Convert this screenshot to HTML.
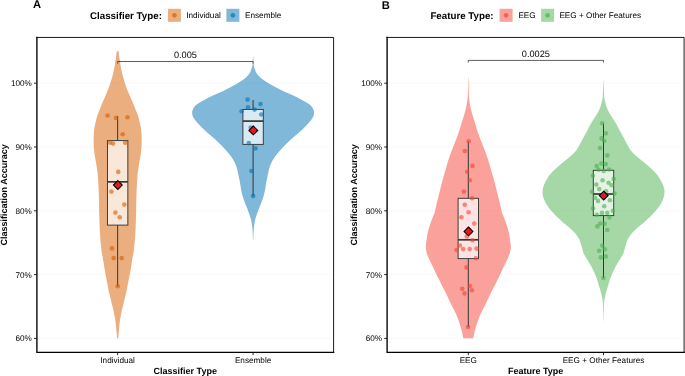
<!DOCTYPE html>
<html lang="en"><head><meta charset="utf-8"><title>Classification accuracy violin plots</title>
<style>html,body{margin:0;padding:0;background:#fff;overflow:hidden}svg{display:block}</style></head>
<body>
<svg width="685" height="376" viewBox="0 0 685 376" font-family="'Liberation Sans', Arial, Helvetica, sans-serif" text-rendering="geometricPrecision">
<rect width="685" height="376" fill="#fff"/>
<line x1="38.9" x2="331.6" y1="338.40" y2="338.40" stroke="#efefef" stroke-width="0.4"/>
<line x1="38.9" x2="331.6" y1="274.60" y2="274.60" stroke="#efefef" stroke-width="0.4"/>
<line x1="38.9" x2="331.6" y1="210.80" y2="210.80" stroke="#efefef" stroke-width="0.4"/>
<line x1="38.9" x2="331.6" y1="147.00" y2="147.00" stroke="#efefef" stroke-width="0.4"/>
<line x1="38.9" x2="331.6" y1="83.20" y2="83.20" stroke="#efefef" stroke-width="0.4"/>
<path d="M116.65 51.30 L116.57 52.30 L116.47 53.30 L116.37 54.30 L116.25 55.30 L116.12 56.30 L115.98 57.30 L115.83 58.30 L115.68 59.30 L115.52 60.30 L115.36 61.30 L115.23 62.30 L115.09 63.30 L114.96 64.30 L114.80 65.30 L114.62 66.30 L114.43 67.30 L114.23 68.30 L114.02 69.30 L113.81 70.30 L113.60 71.30 L113.38 72.30 L113.15 73.30 L112.92 74.30 L112.67 75.30 L112.41 76.30 L112.14 77.30 L111.85 78.30 L111.56 79.30 L111.26 80.30 L110.96 81.30 L110.64 82.30 L110.32 83.30 L109.99 84.30 L109.65 85.30 L109.31 86.30 L108.96 87.30 L108.60 88.30 L108.23 89.30 L107.84 90.30 L107.43 91.30 L107.01 92.30 L106.58 93.30 L106.15 94.30 L105.72 95.30 L105.28 96.30 L104.84 97.30 L104.40 98.30 L103.96 99.30 L103.52 100.30 L103.08 101.30 L102.63 102.30 L102.20 103.30 L101.78 104.30 L101.38 105.30 L100.99 106.30 L100.60 107.30 L100.21 108.30 L99.82 109.30 L99.43 110.30 L99.03 111.30 L98.59 112.30 L98.16 113.30 L97.76 114.30 L97.42 115.30 L97.11 116.30 L96.83 117.30 L96.56 118.30 L96.30 119.30 L96.05 120.30 L95.81 121.30 L95.58 122.30 L95.36 123.30 L95.15 124.30 L94.94 125.30 L94.73 126.30 L94.53 127.30 L94.36 128.30 L94.23 129.30 L94.12 130.30 L94.04 131.30 L93.96 132.30 L93.89 133.30 L93.82 134.30 L93.75 135.30 L93.69 136.30 L93.65 137.30 L93.65 138.30 L93.65 139.30 L93.65 140.30 L93.65 141.30 L93.66 142.30 L93.68 143.30 L93.71 144.30 L93.74 145.30 L93.79 146.30 L93.85 147.30 L93.91 148.30 L93.99 149.30 L94.07 150.30 L94.17 151.30 L94.29 152.30 L94.43 153.30 L94.58 154.30 L94.74 155.30 L94.90 156.30 L95.06 157.30 L95.25 158.30 L95.43 159.30 L95.62 160.30 L95.81 161.30 L95.98 162.30 L96.15 163.30 L96.30 164.30 L96.45 165.30 L96.60 166.30 L96.75 167.30 L96.90 168.30 L97.06 169.30 L97.22 170.30 L97.36 171.30 L97.48 172.30 L97.59 173.30 L97.68 174.30 L97.77 175.30 L97.85 176.30 L97.93 177.30 L98.00 178.30 L98.07 179.30 L98.13 180.30 L98.20 181.30 L98.25 182.30 L98.31 183.30 L98.37 184.30 L98.42 185.30 L98.47 186.30 L98.52 187.30 L98.57 188.30 L98.62 189.30 L98.66 190.30 L98.70 191.30 L98.73 192.30 L98.76 193.30 L98.80 194.30 L98.83 195.30 L98.86 196.30 L98.89 197.30 L98.93 198.30 L98.96 199.30 L98.99 200.30 L99.02 201.30 L99.04 202.30 L99.06 203.30 L99.07 204.30 L99.08 205.30 L99.09 206.30 L99.10 207.30 L99.11 208.30 L99.12 209.30 L99.13 210.30 L99.14 211.30 L99.16 212.30 L99.18 213.30 L99.22 214.30 L99.26 215.30 L99.30 216.30 L99.34 217.30 L99.37 218.30 L99.40 219.30 L99.44 220.30 L99.47 221.30 L99.50 222.30 L99.53 223.30 L99.56 224.30 L99.59 225.30 L99.62 226.30 L99.65 227.30 L99.68 228.30 L99.72 229.30 L99.76 230.30 L99.81 231.30 L99.88 232.30 L99.95 233.30 L100.02 234.30 L100.10 235.30 L100.17 236.30 L100.24 237.30 L100.31 238.30 L100.38 239.30 L100.45 240.30 L100.53 241.30 L100.61 242.30 L100.71 243.30 L100.82 244.30 L100.93 245.30 L101.05 246.30 L101.17 247.30 L101.28 248.30 L101.37 249.30 L101.47 250.30 L101.57 251.30 L101.69 252.30 L101.86 253.30 L102.06 254.30 L102.28 255.30 L102.50 256.30 L102.70 257.30 L102.87 258.30 L103.03 259.30 L103.19 260.30 L103.34 261.30 L103.49 262.30 L103.64 263.30 L103.80 264.30 L103.96 265.30 L104.12 266.30 L104.28 267.30 L104.44 268.30 L104.61 269.30 L104.79 270.30 L104.96 271.30 L105.15 272.30 L105.34 273.30 L105.53 274.30 L105.72 275.30 L105.91 276.30 L106.10 277.30 L106.29 278.30 L106.49 279.30 L106.68 280.30 L106.88 281.30 L107.07 282.30 L107.26 283.30 L107.45 284.30 L107.64 285.30 L107.83 286.30 L108.02 287.30 L108.21 288.30 L108.40 289.30 L108.60 290.30 L108.80 291.30 L109.02 292.30 L109.25 293.30 L109.51 294.30 L109.77 295.30 L110.02 296.30 L110.28 297.30 L110.52 298.30 L110.75 299.30 L110.99 300.30 L111.22 301.30 L111.45 302.30 L111.68 303.30 L111.92 304.30 L112.17 305.30 L112.42 306.30 L112.68 307.30 L112.93 308.30 L113.17 309.30 L113.39 310.30 L113.61 311.30 L113.82 312.30 L114.03 313.30 L114.23 314.30 L114.42 315.30 L114.60 316.30 L114.79 317.30 L114.97 318.30 L115.14 319.30 L115.31 320.30 L115.46 321.30 L115.60 322.30 L115.72 323.30 L115.82 324.30 L115.91 325.30 L116.00 326.30 L116.08 327.30 L116.18 328.30 L116.28 329.30 L116.38 330.30 L116.48 331.30 L116.58 332.30 L116.66 333.30 L116.75 334.30 L116.83 335.30 L116.91 336.30 L116.98 337.30 L117.05 338.30 L118.25 338.30 L118.32 337.30 L118.39 336.30 L118.47 335.30 L118.55 334.30 L118.64 333.30 L118.72 332.30 L118.82 331.30 L118.92 330.30 L119.02 329.30 L119.12 328.30 L119.22 327.30 L119.30 326.30 L119.39 325.30 L119.48 324.30 L119.58 323.30 L119.70 322.30 L119.84 321.30 L119.99 320.30 L120.16 319.30 L120.33 318.30 L120.51 317.30 L120.70 316.30 L120.88 315.30 L121.07 314.30 L121.27 313.30 L121.48 312.30 L121.69 311.30 L121.91 310.30 L122.13 309.30 L122.37 308.30 L122.62 307.30 L122.88 306.30 L123.13 305.30 L123.38 304.30 L123.62 303.30 L123.85 302.30 L124.08 301.30 L124.31 300.30 L124.55 299.30 L124.78 298.30 L125.02 297.30 L125.28 296.30 L125.53 295.30 L125.79 294.30 L126.05 293.30 L126.28 292.30 L126.50 291.30 L126.70 290.30 L126.90 289.30 L127.09 288.30 L127.28 287.30 L127.47 286.30 L127.66 285.30 L127.85 284.30 L128.04 283.30 L128.23 282.30 L128.42 281.30 L128.62 280.30 L128.81 279.30 L129.01 278.30 L129.20 277.30 L129.39 276.30 L129.58 275.30 L129.77 274.30 L129.96 273.30 L130.15 272.30 L130.34 271.30 L130.51 270.30 L130.69 269.30 L130.86 268.30 L131.02 267.30 L131.18 266.30 L131.34 265.30 L131.50 264.30 L131.66 263.30 L131.81 262.30 L131.96 261.30 L132.11 260.30 L132.27 259.30 L132.43 258.30 L132.60 257.30 L132.80 256.30 L133.02 255.30 L133.24 254.30 L133.44 253.30 L133.61 252.30 L133.73 251.30 L133.83 250.30 L133.93 249.30 L134.02 248.30 L134.13 247.30 L134.25 246.30 L134.37 245.30 L134.48 244.30 L134.59 243.30 L134.69 242.30 L134.77 241.30 L134.85 240.30 L134.92 239.30 L134.99 238.30 L135.06 237.30 L135.13 236.30 L135.20 235.30 L135.28 234.30 L135.35 233.30 L135.42 232.30 L135.49 231.30 L135.54 230.30 L135.58 229.30 L135.62 228.30 L135.65 227.30 L135.68 226.30 L135.71 225.30 L135.74 224.30 L135.77 223.30 L135.80 222.30 L135.83 221.30 L135.86 220.30 L135.90 219.30 L135.93 218.30 L135.96 217.30 L136.00 216.30 L136.04 215.30 L136.08 214.30 L136.12 213.30 L136.14 212.30 L136.16 211.30 L136.17 210.30 L136.18 209.30 L136.19 208.30 L136.20 207.30 L136.21 206.30 L136.22 205.30 L136.23 204.30 L136.24 203.30 L136.26 202.30 L136.28 201.30 L136.31 200.30 L136.34 199.30 L136.37 198.30 L136.41 197.30 L136.44 196.30 L136.47 195.30 L136.50 194.30 L136.54 193.30 L136.57 192.30 L136.60 191.30 L136.64 190.30 L136.68 189.30 L136.73 188.30 L136.78 187.30 L136.83 186.30 L136.88 185.30 L136.93 184.30 L136.99 183.30 L137.05 182.30 L137.10 181.30 L137.17 180.30 L137.23 179.30 L137.30 178.30 L137.37 177.30 L137.45 176.30 L137.53 175.30 L137.62 174.30 L137.71 173.30 L137.82 172.30 L137.94 171.30 L138.08 170.30 L138.24 169.30 L138.40 168.30 L138.55 167.30 L138.70 166.30 L138.85 165.30 L139.00 164.30 L139.15 163.30 L139.32 162.30 L139.49 161.30 L139.68 160.30 L139.87 159.30 L140.05 158.30 L140.24 157.30 L140.40 156.30 L140.56 155.30 L140.72 154.30 L140.87 153.30 L141.01 152.30 L141.13 151.30 L141.23 150.30 L141.31 149.30 L141.39 148.30 L141.45 147.30 L141.51 146.30 L141.56 145.30 L141.59 144.30 L141.62 143.30 L141.64 142.30 L141.65 141.30 L141.65 140.30 L141.65 139.30 L141.65 138.30 L141.65 137.30 L141.61 136.30 L141.55 135.30 L141.48 134.30 L141.41 133.30 L141.34 132.30 L141.26 131.30 L141.18 130.30 L141.07 129.30 L140.94 128.30 L140.77 127.30 L140.57 126.30 L140.36 125.30 L140.15 124.30 L139.94 123.30 L139.72 122.30 L139.49 121.30 L139.25 120.30 L139.00 119.30 L138.74 118.30 L138.47 117.30 L138.19 116.30 L137.88 115.30 L137.54 114.30 L137.14 113.30 L136.71 112.30 L136.27 111.30 L135.87 110.30 L135.48 109.30 L135.09 108.30 L134.70 107.30 L134.31 106.30 L133.92 105.30 L133.52 104.30 L133.10 103.30 L132.67 102.30 L132.22 101.30 L131.78 100.30 L131.34 99.30 L130.90 98.30 L130.46 97.30 L130.02 96.30 L129.58 95.30 L129.15 94.30 L128.72 93.30 L128.29 92.30 L127.87 91.30 L127.46 90.30 L127.07 89.30 L126.70 88.30 L126.34 87.30 L125.99 86.30 L125.65 85.30 L125.31 84.30 L124.98 83.30 L124.66 82.30 L124.34 81.30 L124.04 80.30 L123.74 79.30 L123.45 78.30 L123.16 77.30 L122.89 76.30 L122.63 75.30 L122.38 74.30 L122.15 73.30 L121.92 72.30 L121.70 71.30 L121.49 70.30 L121.28 69.30 L121.07 68.30 L120.87 67.30 L120.68 66.30 L120.50 65.30 L120.34 64.30 L120.21 63.30 L120.07 62.30 L119.94 61.30 L119.78 60.30 L119.62 59.30 L119.47 58.30 L119.32 57.30 L119.18 56.30 L119.05 55.30 L118.93 54.30 L118.83 53.30 L118.73 52.30 L118.65 51.30Z" fill="#D55E00" fill-opacity="0.5"/>
<path d="M252.90 56.50 L252.88 57.50 L252.85 58.50 L252.81 59.50 L252.77 60.50 L252.73 61.50 L252.68 62.50 L252.63 63.50 L252.56 64.50 L252.45 65.50 L252.23 66.50 L251.93 67.50 L251.60 68.50 L251.27 69.50 L250.92 70.50 L250.52 71.50 L250.05 72.50 L249.47 73.50 L248.75 74.50 L247.92 75.50 L247.01 76.50 L245.95 77.50 L244.74 78.50 L243.42 79.50 L242.04 80.50 L240.54 81.50 L238.95 82.50 L237.28 83.50 L235.56 84.50 L233.75 85.50 L231.88 86.50 L229.98 87.50 L228.07 88.50 L226.14 89.50 L224.16 90.50 L222.09 91.50 L219.86 92.50 L217.51 93.50 L215.15 94.50 L212.88 95.50 L210.79 96.50 L208.87 97.50 L207.02 98.50 L205.16 99.50 L203.28 100.50 L201.46 101.50 L199.77 102.50 L198.15 103.50 L196.69 104.50 L195.57 105.50 L194.61 106.50 L193.81 107.50 L193.26 108.50 L192.83 109.50 L192.46 110.50 L192.20 111.50 L192.10 112.50 L192.16 113.50 L192.30 114.50 L192.50 115.50 L192.86 116.50 L193.42 117.50 L194.07 118.50 L194.74 119.50 L195.50 120.50 L196.32 121.50 L197.20 122.50 L198.11 123.50 L199.03 124.50 L199.95 125.50 L200.90 126.50 L201.88 127.50 L202.88 128.50 L203.92 129.50 L204.97 130.50 L206.06 131.50 L207.19 132.50 L208.37 133.50 L209.56 134.50 L210.75 135.50 L211.92 136.50 L213.05 137.50 L214.16 138.50 L215.26 139.50 L216.35 140.50 L217.42 141.50 L218.47 142.50 L219.50 143.50 L220.51 144.50 L221.50 145.50 L222.47 146.50 L223.42 147.50 L224.35 148.50 L225.26 149.50 L226.15 150.50 L227.04 151.50 L227.91 152.50 L228.76 153.50 L229.57 154.50 L230.35 155.50 L231.07 156.50 L231.76 157.50 L232.42 158.50 L233.06 159.50 L233.65 160.50 L234.21 161.50 L234.71 162.50 L235.16 163.50 L235.58 164.50 L235.98 165.50 L236.35 166.50 L236.68 167.50 L236.99 168.50 L237.25 169.50 L237.48 170.50 L237.69 171.50 L237.91 172.50 L238.13 173.50 L238.35 174.50 L238.56 175.50 L238.77 176.50 L238.98 177.50 L239.18 178.50 L239.38 179.50 L239.58 180.50 L239.78 181.50 L239.97 182.50 L240.15 183.50 L240.32 184.50 L240.47 185.50 L240.62 186.50 L240.77 187.50 L240.92 188.50 L241.09 189.50 L241.28 190.50 L241.48 191.50 L241.70 192.50 L241.94 193.50 L242.19 194.50 L242.45 195.50 L242.73 196.50 L243.03 197.50 L243.36 198.50 L243.71 199.50 L244.08 200.50 L244.45 201.50 L244.83 202.50 L245.21 203.50 L245.61 204.50 L246.03 205.50 L246.44 206.50 L246.85 207.50 L247.25 208.50 L247.62 209.50 L247.98 210.50 L248.32 211.50 L248.67 212.50 L249.02 213.50 L249.39 214.50 L249.76 215.50 L250.11 216.50 L250.44 217.50 L250.72 218.50 L250.97 219.50 L251.19 220.50 L251.40 221.50 L251.60 222.50 L251.77 223.50 L251.92 224.50 L252.05 225.50 L252.17 226.50 L252.28 227.50 L252.38 228.50 L252.47 229.50 L252.54 230.50 L252.61 231.50 L252.66 232.50 L252.71 233.50 L252.76 234.50 L252.80 235.50 L252.84 236.50 L252.87 237.50 L252.89 238.50 L252.90 239.50 L253.30 239.50 L253.31 238.50 L253.33 237.50 L253.36 236.50 L253.40 235.50 L253.44 234.50 L253.49 233.50 L253.54 232.50 L253.59 231.50 L253.66 230.50 L253.73 229.50 L253.82 228.50 L253.92 227.50 L254.03 226.50 L254.15 225.50 L254.28 224.50 L254.43 223.50 L254.60 222.50 L254.80 221.50 L255.01 220.50 L255.23 219.50 L255.48 218.50 L255.76 217.50 L256.09 216.50 L256.44 215.50 L256.81 214.50 L257.18 213.50 L257.53 212.50 L257.88 211.50 L258.22 210.50 L258.58 209.50 L258.95 208.50 L259.35 207.50 L259.76 206.50 L260.17 205.50 L260.59 204.50 L260.99 203.50 L261.37 202.50 L261.75 201.50 L262.12 200.50 L262.49 199.50 L262.84 198.50 L263.17 197.50 L263.47 196.50 L263.75 195.50 L264.01 194.50 L264.26 193.50 L264.50 192.50 L264.72 191.50 L264.92 190.50 L265.11 189.50 L265.28 188.50 L265.43 187.50 L265.58 186.50 L265.73 185.50 L265.88 184.50 L266.05 183.50 L266.23 182.50 L266.42 181.50 L266.62 180.50 L266.82 179.50 L267.02 178.50 L267.22 177.50 L267.43 176.50 L267.64 175.50 L267.85 174.50 L268.07 173.50 L268.29 172.50 L268.51 171.50 L268.72 170.50 L268.95 169.50 L269.21 168.50 L269.52 167.50 L269.85 166.50 L270.22 165.50 L270.62 164.50 L271.04 163.50 L271.49 162.50 L271.99 161.50 L272.55 160.50 L273.14 159.50 L273.78 158.50 L274.44 157.50 L275.13 156.50 L275.85 155.50 L276.63 154.50 L277.44 153.50 L278.29 152.50 L279.16 151.50 L280.05 150.50 L280.94 149.50 L281.85 148.50 L282.78 147.50 L283.73 146.50 L284.70 145.50 L285.69 144.50 L286.70 143.50 L287.73 142.50 L288.78 141.50 L289.85 140.50 L290.94 139.50 L292.04 138.50 L293.15 137.50 L294.28 136.50 L295.45 135.50 L296.64 134.50 L297.83 133.50 L299.01 132.50 L300.14 131.50 L301.23 130.50 L302.28 129.50 L303.32 128.50 L304.32 127.50 L305.30 126.50 L306.25 125.50 L307.17 124.50 L308.09 123.50 L309.00 122.50 L309.88 121.50 L310.70 120.50 L311.46 119.50 L312.13 118.50 L312.78 117.50 L313.34 116.50 L313.70 115.50 L313.90 114.50 L314.04 113.50 L314.10 112.50 L314.00 111.50 L313.74 110.50 L313.37 109.50 L312.94 108.50 L312.39 107.50 L311.59 106.50 L310.63 105.50 L309.51 104.50 L308.05 103.50 L306.43 102.50 L304.74 101.50 L302.92 100.50 L301.04 99.50 L299.18 98.50 L297.33 97.50 L295.41 96.50 L293.32 95.50 L291.05 94.50 L288.69 93.50 L286.34 92.50 L284.11 91.50 L282.04 90.50 L280.06 89.50 L278.13 88.50 L276.22 87.50 L274.32 86.50 L272.45 85.50 L270.64 84.50 L268.92 83.50 L267.25 82.50 L265.66 81.50 L264.16 80.50 L262.78 79.50 L261.46 78.50 L260.25 77.50 L259.19 76.50 L258.28 75.50 L257.45 74.50 L256.73 73.50 L256.15 72.50 L255.68 71.50 L255.28 70.50 L254.93 69.50 L254.60 68.50 L254.27 67.50 L253.97 66.50 L253.75 65.50 L253.64 64.50 L253.57 63.50 L253.52 62.50 L253.47 61.50 L253.43 60.50 L253.39 59.50 L253.35 58.50 L253.32 57.50 L253.30 56.50Z" fill="#0072B2" fill-opacity="0.5"/>
<g stroke="#363636" stroke-width="1.0">
<line x1="117.65" x2="117.65" y1="116.0" y2="140.6"/><line x1="117.65" x2="117.65" y1="225.1" y2="286.3"/>
<rect x="107.45" y="140.6" width="20.40" height="84.50" fill="#fff" fill-opacity="0.7" stroke-width="0.95"/>
<line x1="107.45" x2="127.85" y1="181.85" y2="181.85" stroke-width="1.7"/>
</g>
<g stroke="#363636" stroke-width="1.0">
<line x1="253.1" x2="253.1" y1="100.0" y2="109.4"/><line x1="253.1" x2="253.1" y1="144.4" y2="196.1"/>
<rect x="242.90" y="109.4" width="20.40" height="35.00" fill="#fff" fill-opacity="0.7" stroke-width="0.95"/>
<line x1="242.90" x2="263.30" y1="121.1" y2="121.1" stroke-width="1.7"/>
</g>
<g fill="#D55E00" fill-opacity="0.6">
<circle cx="107.6" cy="115.5" r="2.32"/>
<circle cx="116" cy="117.9" r="2.32"/>
<circle cx="127.5" cy="117.3" r="2.32"/>
<circle cx="122.7" cy="134.2" r="2.32"/>
<circle cx="109.9" cy="142.6" r="2.32"/>
<circle cx="113" cy="143.6" r="2.32"/>
<circle cx="125.2" cy="142.7" r="2.32"/>
<circle cx="118.3" cy="171.9" r="2.32"/>
<circle cx="111.4" cy="191.6" r="2.32"/>
<circle cx="124.3" cy="204.6" r="2.32"/>
<circle cx="115.4" cy="212.6" r="2.32"/>
<circle cx="119.7" cy="217.3" r="2.32"/>
<circle cx="112" cy="248.4" r="2.32"/>
<circle cx="113.7" cy="258.1" r="2.32"/>
<circle cx="121.7" cy="258.1" r="2.32"/>
<circle cx="117.7" cy="286.3" r="2.32"/>
</g>
<g fill="#0072B2" fill-opacity="0.6">
<circle cx="247.6" cy="99.6" r="2.32"/>
<circle cx="260.5" cy="104.1" r="2.32"/>
<circle cx="248" cy="107.4" r="2.32"/>
<circle cx="254.6" cy="109.6" r="2.32"/>
<circle cx="241.6" cy="111.3" r="2.32"/>
<circle cx="261.3" cy="114.5" r="2.32"/>
<circle cx="250.8" cy="127.5" r="2.32"/>
<circle cx="248.8" cy="143.1" r="2.32"/>
<circle cx="255.5" cy="148.4" r="2.32"/>
<circle cx="251.4" cy="171.0" r="2.32"/>
<circle cx="253.1" cy="196.1" r="2.32"/>
</g>
<path d="M117.85 180.65 L122.25 185.05 L117.85 189.45 L113.45 185.05Z" fill="#e3191e" stroke="#000" stroke-width="1.1" stroke-linejoin="miter"/>
<path d="M253.3 126.0 L257.7 130.4 L253.3 134.8 L248.9 130.4Z" fill="#e3191e" stroke="#000" stroke-width="1.1" stroke-linejoin="miter"/>
<path d="M117.65 63.6 V61.5 H253.1 V63.6" fill="none" stroke="#2a2a2a" stroke-width="0.75"/>
<text x="185.38" y="58.00" font-size="9.2" text-anchor="middle" fill="#000">0.005</text>
<path d="M36.9 37.45 H333.6 V352.3" fill="none" stroke="#000" stroke-width="0.9" stroke-linecap="square"/>
<path d="M36.9 37.45 V352.3 H333.6" fill="none" stroke="#000" stroke-width="1.35" stroke-linecap="square"/>
<line x1="34.0" x2="36.9" y1="338.40" y2="338.40" stroke="#111" stroke-width="0.9"/>
<text x="31.90" y="341.35" font-size="8.2" text-anchor="end" fill="#000">60%</text>
<line x1="34.0" x2="36.9" y1="274.60" y2="274.60" stroke="#111" stroke-width="0.9"/>
<text x="31.90" y="277.55" font-size="8.2" text-anchor="end" fill="#000">70%</text>
<line x1="34.0" x2="36.9" y1="210.80" y2="210.80" stroke="#111" stroke-width="0.9"/>
<text x="31.90" y="213.75" font-size="8.2" text-anchor="end" fill="#000">80%</text>
<line x1="34.0" x2="36.9" y1="147.00" y2="147.00" stroke="#111" stroke-width="0.9"/>
<text x="31.90" y="149.95" font-size="8.2" text-anchor="end" fill="#000">90%</text>
<line x1="34.0" x2="36.9" y1="83.20" y2="83.20" stroke="#111" stroke-width="0.9"/>
<text x="31.90" y="86.15" font-size="8.2" text-anchor="end" fill="#000">100%</text>
<line x1="117.65" x2="117.65" y1="352.3" y2="355.2" stroke="#111" stroke-width="0.9"/>
<text x="117.65" y="363.1" font-size="8.2" text-anchor="middle" fill="#000">Individual</text>
<line x1="253.1" x2="253.1" y1="352.3" y2="355.2" stroke="#111" stroke-width="0.9"/>
<text x="253.1" y="363.1" font-size="8.2" text-anchor="middle" fill="#000">Ensemble</text>
<text x="185.25" y="373.5" font-size="9" font-weight="bold" text-anchor="middle" fill="#000">Classifier Type</text>
<text transform="translate(7.0 194.88) rotate(-90)" font-size="9" font-weight="bold" text-anchor="middle" fill="#000">Classification Accuracy</text>
<text x="33.1" y="8.1" font-size="11.2" font-weight="bold" fill="#000">A</text>
<text x="90.0" y="18.6" font-size="9.75" font-weight="bold" fill="#000">Classifier Type:</text>
<rect x="167.9" y="8.8" width="13" height="13" fill="#D55E00" fill-opacity="0.5"/>
<circle cx="174.4" cy="15.3" r="2.35" fill="#D55E00" fill-opacity="0.68"/>
<text x="186.2" y="18.2" font-size="8.2" fill="#000">Individual</text>
<rect x="226.4" y="8.8" width="13" height="13" fill="#0072B2" fill-opacity="0.5"/>
<circle cx="232.9" cy="15.3" r="2.35" fill="#0072B2" fill-opacity="0.68"/>
<text x="245.0" y="18.2" font-size="8.2" fill="#000">Ensemble</text>
<line x1="389.1" x2="682.1" y1="338.40" y2="338.40" stroke="#efefef" stroke-width="0.4"/>
<line x1="389.1" x2="682.1" y1="274.60" y2="274.60" stroke="#efefef" stroke-width="0.4"/>
<line x1="389.1" x2="682.1" y1="210.80" y2="210.80" stroke="#efefef" stroke-width="0.4"/>
<line x1="389.1" x2="682.1" y1="147.00" y2="147.00" stroke="#efefef" stroke-width="0.4"/>
<line x1="389.1" x2="682.1" y1="83.20" y2="83.20" stroke="#efefef" stroke-width="0.4"/>
<path d="M468.15 77.60 L468.14 78.60 L468.13 79.60 L468.12 80.60 L468.10 81.60 L468.09 82.60 L468.07 83.60 L468.06 84.60 L468.04 85.60 L468.02 86.60 L468.00 87.60 L467.98 88.60 L467.95 89.60 L467.92 90.60 L467.89 91.60 L467.86 92.60 L467.82 93.60 L467.77 94.60 L467.72 95.60 L467.67 96.60 L467.60 97.60 L467.52 98.60 L467.41 99.60 L467.28 100.60 L467.14 101.60 L466.99 102.60 L466.83 103.60 L466.67 104.60 L466.48 105.60 L466.29 106.60 L466.07 107.60 L465.85 108.60 L465.62 109.60 L465.38 110.60 L465.12 111.60 L464.84 112.60 L464.54 113.60 L464.25 114.60 L463.94 115.60 L463.64 116.60 L463.33 117.60 L463.01 118.60 L462.69 119.60 L462.36 120.60 L462.04 121.60 L461.73 122.60 L461.43 123.60 L461.14 124.60 L460.86 125.60 L460.58 126.60 L460.29 127.60 L459.99 128.60 L459.68 129.60 L459.36 130.60 L459.03 131.60 L458.70 132.60 L458.35 133.60 L458.00 134.60 L457.64 135.60 L457.27 136.60 L456.90 137.60 L456.52 138.60 L456.14 139.60 L455.74 140.60 L455.35 141.60 L454.95 142.60 L454.56 143.60 L454.16 144.60 L453.77 145.60 L453.37 146.60 L452.98 147.60 L452.58 148.60 L452.19 149.60 L451.81 150.60 L451.43 151.60 L451.05 152.60 L450.67 153.60 L450.30 154.60 L449.94 155.60 L449.59 156.60 L449.25 157.60 L448.91 158.60 L448.58 159.60 L448.25 160.60 L447.94 161.60 L447.63 162.60 L447.33 163.60 L447.04 164.60 L446.76 165.60 L446.49 166.60 L446.21 167.60 L445.93 168.60 L445.66 169.60 L445.39 170.60 L445.11 171.60 L444.82 172.60 L444.52 173.60 L444.21 174.60 L443.90 175.60 L443.59 176.60 L443.30 177.60 L443.02 178.60 L442.75 179.60 L442.48 180.60 L442.22 181.60 L441.96 182.60 L441.70 183.60 L441.45 184.60 L441.20 185.60 L440.96 186.60 L440.71 187.60 L440.47 188.60 L440.22 189.60 L439.97 190.60 L439.72 191.60 L439.47 192.60 L439.21 193.60 L438.96 194.60 L438.70 195.60 L438.45 196.60 L438.19 197.60 L437.93 198.60 L437.67 199.60 L437.42 200.60 L437.17 201.60 L436.92 202.60 L436.69 203.60 L436.45 204.60 L436.23 205.60 L436.00 206.60 L435.79 207.60 L435.58 208.60 L435.40 209.60 L435.22 210.60 L435.00 211.60 L434.72 212.60 L434.33 213.60 L433.89 214.60 L433.44 215.60 L433.02 216.60 L432.62 217.60 L432.23 218.60 L431.85 219.60 L431.47 220.60 L431.11 221.60 L430.76 222.60 L430.42 223.60 L430.09 224.60 L429.77 225.60 L429.46 226.60 L429.15 227.60 L428.85 228.60 L428.57 229.60 L428.30 230.60 L428.03 231.60 L427.78 232.60 L427.56 233.60 L427.37 234.60 L427.20 235.60 L427.05 236.60 L426.90 237.60 L426.76 238.60 L426.61 239.60 L426.48 240.60 L426.34 241.60 L426.21 242.60 L426.07 243.60 L425.93 244.60 L425.85 245.60 L425.81 246.60 L425.80 247.60 L425.88 248.60 L426.01 249.60 L426.17 250.60 L426.36 251.60 L426.63 252.60 L426.94 253.60 L427.29 254.60 L427.64 255.60 L428.03 256.60 L428.45 257.60 L428.90 258.60 L429.34 259.60 L429.80 260.60 L430.28 261.60 L430.76 262.60 L431.25 263.60 L431.75 264.60 L432.25 265.60 L432.76 266.60 L433.26 267.60 L433.74 268.60 L434.20 269.60 L434.66 270.60 L435.10 271.60 L435.55 272.60 L436.01 273.60 L436.46 274.60 L436.92 275.60 L437.40 276.60 L437.91 277.60 L438.44 278.60 L438.98 279.60 L439.50 280.60 L439.99 281.60 L440.46 282.60 L440.93 283.60 L441.40 284.60 L441.90 285.60 L442.44 286.60 L442.98 287.60 L443.52 288.60 L444.05 289.60 L444.56 290.60 L445.07 291.60 L445.56 292.60 L446.05 293.60 L446.54 294.60 L447.03 295.60 L447.51 296.60 L447.98 297.60 L448.44 298.60 L448.87 299.60 L449.30 300.60 L449.74 301.60 L450.19 302.60 L450.68 303.60 L451.18 304.60 L451.69 305.60 L452.20 306.60 L452.73 307.60 L453.26 308.60 L453.79 309.60 L454.30 310.60 L454.80 311.60 L455.29 312.60 L455.77 313.60 L456.24 314.60 L456.67 315.60 L457.09 316.60 L457.48 317.60 L457.87 318.60 L458.24 319.60 L458.60 320.60 L458.94 321.60 L459.28 322.60 L459.60 323.60 L459.92 324.60 L460.22 325.60 L460.51 326.60 L460.80 327.60 L461.09 328.60 L461.38 329.60 L461.66 330.60 L461.94 331.60 L462.18 332.60 L462.38 333.60 L462.56 334.60 L462.76 335.60 L462.96 336.60 L463.16 337.60 L463.30 338.30 L473.30 338.30 L473.44 337.60 L473.64 336.60 L473.84 335.60 L474.04 334.60 L474.22 333.60 L474.42 332.60 L474.66 331.60 L474.94 330.60 L475.22 329.60 L475.51 328.60 L475.80 327.60 L476.09 326.60 L476.38 325.60 L476.68 324.60 L477.00 323.60 L477.32 322.60 L477.66 321.60 L478.00 320.60 L478.36 319.60 L478.73 318.60 L479.12 317.60 L479.51 316.60 L479.93 315.60 L480.36 314.60 L480.83 313.60 L481.31 312.60 L481.80 311.60 L482.30 310.60 L482.81 309.60 L483.34 308.60 L483.87 307.60 L484.40 306.60 L484.91 305.60 L485.42 304.60 L485.92 303.60 L486.41 302.60 L486.86 301.60 L487.30 300.60 L487.73 299.60 L488.16 298.60 L488.62 297.60 L489.09 296.60 L489.57 295.60 L490.06 294.60 L490.55 293.60 L491.04 292.60 L491.53 291.60 L492.04 290.60 L492.55 289.60 L493.08 288.60 L493.62 287.60 L494.16 286.60 L494.70 285.60 L495.20 284.60 L495.67 283.60 L496.14 282.60 L496.61 281.60 L497.10 280.60 L497.62 279.60 L498.16 278.60 L498.69 277.60 L499.20 276.60 L499.68 275.60 L500.14 274.60 L500.59 273.60 L501.05 272.60 L501.50 271.60 L501.94 270.60 L502.40 269.60 L502.86 268.60 L503.34 267.60 L503.84 266.60 L504.35 265.60 L504.85 264.60 L505.35 263.60 L505.84 262.60 L506.32 261.60 L506.80 260.60 L507.26 259.60 L507.70 258.60 L508.15 257.60 L508.57 256.60 L508.96 255.60 L509.31 254.60 L509.66 253.60 L509.97 252.60 L510.24 251.60 L510.43 250.60 L510.59 249.60 L510.72 248.60 L510.80 247.60 L510.79 246.60 L510.75 245.60 L510.67 244.60 L510.53 243.60 L510.39 242.60 L510.26 241.60 L510.12 240.60 L509.99 239.60 L509.84 238.60 L509.70 237.60 L509.55 236.60 L509.40 235.60 L509.23 234.60 L509.04 233.60 L508.82 232.60 L508.57 231.60 L508.30 230.60 L508.03 229.60 L507.75 228.60 L507.45 227.60 L507.14 226.60 L506.83 225.60 L506.51 224.60 L506.18 223.60 L505.84 222.60 L505.49 221.60 L505.13 220.60 L504.75 219.60 L504.37 218.60 L503.98 217.60 L503.58 216.60 L503.16 215.60 L502.71 214.60 L502.27 213.60 L501.88 212.60 L501.60 211.60 L501.38 210.60 L501.20 209.60 L501.02 208.60 L500.81 207.60 L500.60 206.60 L500.37 205.60 L500.15 204.60 L499.91 203.60 L499.68 202.60 L499.43 201.60 L499.18 200.60 L498.93 199.60 L498.67 198.60 L498.41 197.60 L498.15 196.60 L497.90 195.60 L497.64 194.60 L497.39 193.60 L497.13 192.60 L496.88 191.60 L496.63 190.60 L496.38 189.60 L496.13 188.60 L495.89 187.60 L495.64 186.60 L495.40 185.60 L495.15 184.60 L494.90 183.60 L494.64 182.60 L494.38 181.60 L494.12 180.60 L493.85 179.60 L493.58 178.60 L493.30 177.60 L493.01 176.60 L492.70 175.60 L492.39 174.60 L492.08 173.60 L491.78 172.60 L491.49 171.60 L491.21 170.60 L490.94 169.60 L490.67 168.60 L490.39 167.60 L490.11 166.60 L489.84 165.60 L489.56 164.60 L489.27 163.60 L488.97 162.60 L488.66 161.60 L488.35 160.60 L488.02 159.60 L487.69 158.60 L487.35 157.60 L487.01 156.60 L486.66 155.60 L486.30 154.60 L485.93 153.60 L485.55 152.60 L485.17 151.60 L484.79 150.60 L484.41 149.60 L484.02 148.60 L483.62 147.60 L483.23 146.60 L482.83 145.60 L482.44 144.60 L482.04 143.60 L481.65 142.60 L481.25 141.60 L480.86 140.60 L480.46 139.60 L480.08 138.60 L479.70 137.60 L479.33 136.60 L478.96 135.60 L478.60 134.60 L478.25 133.60 L477.90 132.60 L477.57 131.60 L477.24 130.60 L476.92 129.60 L476.61 128.60 L476.31 127.60 L476.02 126.60 L475.74 125.60 L475.46 124.60 L475.17 123.60 L474.87 122.60 L474.56 121.60 L474.24 120.60 L473.91 119.60 L473.59 118.60 L473.27 117.60 L472.96 116.60 L472.66 115.60 L472.35 114.60 L472.06 113.60 L471.76 112.60 L471.48 111.60 L471.22 110.60 L470.98 109.60 L470.75 108.60 L470.53 107.60 L470.31 106.60 L470.12 105.60 L469.93 104.60 L469.77 103.60 L469.61 102.60 L469.46 101.60 L469.32 100.60 L469.19 99.60 L469.08 98.60 L469.00 97.60 L468.93 96.60 L468.88 95.60 L468.83 94.60 L468.78 93.60 L468.74 92.60 L468.71 91.60 L468.68 90.60 L468.65 89.60 L468.62 88.60 L468.60 87.60 L468.58 86.60 L468.56 85.60 L468.54 84.60 L468.53 83.60 L468.51 82.60 L468.50 81.60 L468.48 80.60 L468.47 79.60 L468.46 78.60 L468.45 77.60Z" fill="#F44336" fill-opacity="0.5"/>
<path d="M603.35 80.80 L603.33 81.80 L603.30 82.80 L603.27 83.80 L603.24 84.80 L603.21 85.80 L603.17 86.80 L603.13 87.80 L603.10 88.80 L603.06 89.80 L603.02 90.80 L602.98 91.80 L602.94 92.80 L602.90 93.80 L602.85 94.80 L602.79 95.80 L602.72 96.80 L602.63 97.80 L602.47 98.80 L602.26 99.80 L602.03 100.80 L601.79 101.80 L601.56 102.80 L601.32 103.80 L601.06 104.80 L600.78 105.80 L600.47 106.80 L600.12 107.80 L599.73 108.80 L599.29 109.80 L598.81 110.80 L598.31 111.80 L597.78 112.80 L597.20 113.80 L596.57 114.80 L595.91 115.80 L595.25 116.80 L594.61 117.80 L593.97 118.80 L593.32 119.80 L592.67 120.80 L592.04 121.80 L591.44 122.80 L590.86 123.80 L590.30 124.80 L589.76 125.80 L589.22 126.80 L588.70 127.80 L588.20 128.80 L587.70 129.80 L587.17 130.80 L586.62 131.80 L586.06 132.80 L585.50 133.80 L584.95 134.80 L584.40 135.80 L583.85 136.80 L583.31 137.80 L582.79 138.80 L582.28 139.80 L581.77 140.80 L581.26 141.80 L580.74 142.80 L580.21 143.80 L579.67 144.80 L579.12 145.80 L578.56 146.80 L577.98 147.80 L577.39 148.80 L576.74 149.80 L575.99 150.80 L575.14 151.80 L574.22 152.80 L573.20 153.80 L572.13 154.80 L571.03 155.80 L569.88 156.80 L568.70 157.80 L567.46 158.80 L566.20 159.80 L564.97 160.80 L563.75 161.80 L562.55 162.80 L561.35 163.80 L560.18 164.80 L559.02 165.80 L557.86 166.80 L556.71 167.80 L555.59 168.80 L554.51 169.80 L553.50 170.80 L552.52 171.80 L551.57 172.80 L550.67 173.80 L549.83 174.80 L549.08 175.80 L548.39 176.80 L547.75 177.80 L547.15 178.80 L546.59 179.80 L546.05 180.80 L545.52 181.80 L545.00 182.80 L544.51 183.80 L544.08 184.80 L543.70 185.80 L543.37 186.80 L543.07 187.80 L542.85 188.80 L542.70 189.80 L542.57 190.80 L542.50 191.80 L542.52 192.80 L542.61 193.80 L542.74 194.80 L542.90 195.80 L543.15 196.80 L543.44 197.80 L543.77 198.80 L544.14 199.80 L544.57 200.80 L545.04 201.80 L545.56 202.80 L546.14 203.80 L546.75 204.80 L547.40 205.80 L548.08 206.80 L548.82 207.80 L549.61 208.80 L550.44 209.80 L551.30 210.80 L552.16 211.80 L553.03 212.80 L553.91 213.80 L554.83 214.80 L555.79 215.80 L556.80 216.80 L557.94 217.80 L559.15 218.80 L560.29 219.80 L561.25 220.80 L562.20 221.80 L563.36 222.80 L564.65 223.80 L565.94 224.80 L567.14 225.80 L568.32 226.80 L569.49 227.80 L570.62 228.80 L571.69 229.80 L572.70 230.80 L573.69 231.80 L574.63 232.80 L575.52 233.80 L576.33 234.80 L577.05 235.80 L577.73 236.80 L578.36 237.80 L578.94 238.80 L579.44 239.80 L579.86 240.80 L580.21 241.80 L580.53 242.80 L580.81 243.80 L581.10 244.80 L581.39 245.80 L581.68 246.80 L581.96 247.80 L582.24 248.80 L582.53 249.80 L582.83 250.80 L583.13 251.80 L583.45 252.80 L583.82 253.80 L584.31 254.80 L584.90 255.80 L585.49 256.80 L586.10 257.80 L586.72 258.80 L587.33 259.80 L587.94 260.80 L588.56 261.80 L589.17 262.80 L589.77 263.80 L590.35 264.80 L590.92 265.80 L591.48 266.80 L592.03 267.80 L592.55 268.80 L593.04 269.80 L593.52 270.80 L593.98 271.80 L594.42 272.80 L594.85 273.80 L595.27 274.80 L595.69 275.80 L596.10 276.80 L596.49 277.80 L596.86 278.80 L597.20 279.80 L597.50 280.80 L597.79 281.80 L598.06 282.80 L598.34 283.80 L598.63 284.80 L598.94 285.80 L599.26 286.80 L599.58 287.80 L599.90 288.80 L600.20 289.80 L600.49 290.80 L600.77 291.80 L601.03 292.80 L601.28 293.80 L601.53 294.80 L601.77 295.80 L602.00 296.80 L602.21 297.80 L602.38 298.80 L602.54 299.80 L602.68 300.80 L602.78 301.80 L602.86 302.80 L602.92 303.80 L602.97 304.80 L603.01 305.80 L603.04 306.80 L603.08 307.80 L603.11 308.80 L603.14 309.80 L603.17 310.80 L603.20 311.80 L603.23 312.80 L603.25 313.80 L603.28 314.80 L603.30 315.80 L603.31 316.80 L603.33 317.80 L603.34 318.80 L603.35 319.80 L603.35 320.70 L603.65 320.70 L603.65 319.80 L603.66 318.80 L603.67 317.80 L603.69 316.80 L603.70 315.80 L603.72 314.80 L603.75 313.80 L603.77 312.80 L603.80 311.80 L603.83 310.80 L603.86 309.80 L603.89 308.80 L603.92 307.80 L603.96 306.80 L603.99 305.80 L604.03 304.80 L604.08 303.80 L604.14 302.80 L604.22 301.80 L604.32 300.80 L604.46 299.80 L604.62 298.80 L604.79 297.80 L605.00 296.80 L605.23 295.80 L605.47 294.80 L605.72 293.80 L605.97 292.80 L606.23 291.80 L606.51 290.80 L606.80 289.80 L607.10 288.80 L607.42 287.80 L607.74 286.80 L608.06 285.80 L608.37 284.80 L608.66 283.80 L608.94 282.80 L609.21 281.80 L609.50 280.80 L609.80 279.80 L610.14 278.80 L610.51 277.80 L610.90 276.80 L611.31 275.80 L611.73 274.80 L612.15 273.80 L612.58 272.80 L613.02 271.80 L613.48 270.80 L613.96 269.80 L614.45 268.80 L614.97 267.80 L615.52 266.80 L616.08 265.80 L616.65 264.80 L617.23 263.80 L617.83 262.80 L618.44 261.80 L619.06 260.80 L619.67 259.80 L620.28 258.80 L620.90 257.80 L621.51 256.80 L622.10 255.80 L622.69 254.80 L623.18 253.80 L623.55 252.80 L623.87 251.80 L624.17 250.80 L624.47 249.80 L624.76 248.80 L625.04 247.80 L625.32 246.80 L625.61 245.80 L625.90 244.80 L626.19 243.80 L626.47 242.80 L626.79 241.80 L627.14 240.80 L627.56 239.80 L628.06 238.80 L628.64 237.80 L629.27 236.80 L629.95 235.80 L630.67 234.80 L631.48 233.80 L632.37 232.80 L633.31 231.80 L634.30 230.80 L635.31 229.80 L636.38 228.80 L637.51 227.80 L638.68 226.80 L639.86 225.80 L641.06 224.80 L642.35 223.80 L643.64 222.80 L644.80 221.80 L645.75 220.80 L646.71 219.80 L647.85 218.80 L649.06 217.80 L650.20 216.80 L651.21 215.80 L652.17 214.80 L653.09 213.80 L653.97 212.80 L654.84 211.80 L655.70 210.80 L656.56 209.80 L657.39 208.80 L658.18 207.80 L658.92 206.80 L659.60 205.80 L660.25 204.80 L660.86 203.80 L661.44 202.80 L661.96 201.80 L662.43 200.80 L662.86 199.80 L663.23 198.80 L663.56 197.80 L663.85 196.80 L664.10 195.80 L664.26 194.80 L664.39 193.80 L664.48 192.80 L664.50 191.80 L664.43 190.80 L664.30 189.80 L664.15 188.80 L663.93 187.80 L663.63 186.80 L663.30 185.80 L662.92 184.80 L662.49 183.80 L662.00 182.80 L661.48 181.80 L660.95 180.80 L660.41 179.80 L659.85 178.80 L659.25 177.80 L658.61 176.80 L657.92 175.80 L657.17 174.80 L656.33 173.80 L655.43 172.80 L654.48 171.80 L653.50 170.80 L652.49 169.80 L651.41 168.80 L650.29 167.80 L649.14 166.80 L647.98 165.80 L646.82 164.80 L645.65 163.80 L644.45 162.80 L643.25 161.80 L642.03 160.80 L640.80 159.80 L639.54 158.80 L638.30 157.80 L637.12 156.80 L635.97 155.80 L634.87 154.80 L633.80 153.80 L632.78 152.80 L631.86 151.80 L631.01 150.80 L630.26 149.80 L629.61 148.80 L629.02 147.80 L628.44 146.80 L627.88 145.80 L627.33 144.80 L626.79 143.80 L626.26 142.80 L625.74 141.80 L625.23 140.80 L624.72 139.80 L624.21 138.80 L623.69 137.80 L623.15 136.80 L622.60 135.80 L622.05 134.80 L621.50 133.80 L620.94 132.80 L620.38 131.80 L619.83 130.80 L619.30 129.80 L618.80 128.80 L618.30 127.80 L617.78 126.80 L617.24 125.80 L616.70 124.80 L616.14 123.80 L615.56 122.80 L614.96 121.80 L614.33 120.80 L613.68 119.80 L613.03 118.80 L612.39 117.80 L611.75 116.80 L611.09 115.80 L610.43 114.80 L609.80 113.80 L609.22 112.80 L608.69 111.80 L608.19 110.80 L607.71 109.80 L607.27 108.80 L606.88 107.80 L606.53 106.80 L606.22 105.80 L605.94 104.80 L605.68 103.80 L605.44 102.80 L605.21 101.80 L604.97 100.80 L604.74 99.80 L604.53 98.80 L604.37 97.80 L604.28 96.80 L604.21 95.80 L604.15 94.80 L604.10 93.80 L604.06 92.80 L604.02 91.80 L603.98 90.80 L603.94 89.80 L603.90 88.80 L603.87 87.80 L603.83 86.80 L603.79 85.80 L603.76 84.80 L603.73 83.80 L603.70 82.80 L603.67 81.80 L603.65 80.80Z" fill="#4CAF50" fill-opacity="0.5"/>
<g stroke="#363636" stroke-width="1.0">
<line x1="468.3" x2="468.3" y1="141.5" y2="198.3"/><line x1="468.3" x2="468.3" y1="258.6" y2="327.0"/>
<rect x="458.10" y="198.3" width="20.40" height="60.30" fill="#fff" fill-opacity="0.7" stroke-width="0.95"/>
<line x1="458.10" x2="478.50" y1="239.8" y2="239.8" stroke-width="1.7"/>
</g>
<g stroke="#363636" stroke-width="1.0">
<line x1="603.5" x2="603.5" y1="123.5" y2="170.3"/><line x1="603.5" x2="603.5" y1="215.6" y2="278.0"/>
<rect x="593.30" y="170.3" width="20.40" height="45.30" fill="#fff" fill-opacity="0.7" stroke-width="0.95"/>
<line x1="593.30" x2="613.70" y1="194.0" y2="194.0" stroke-width="1.7"/>
</g>
<g fill="#F44336" fill-opacity="0.6">
<circle cx="468.6" cy="141.3" r="2.32"/>
<circle cx="464.8" cy="151" r="2.32"/>
<circle cx="472.5" cy="165.9" r="2.32"/>
<circle cx="467.2" cy="171.7" r="2.32"/>
<circle cx="469.8" cy="180.3" r="2.32"/>
<circle cx="463.9" cy="191.6" r="2.32"/>
<circle cx="472.1" cy="198.3" r="2.32"/>
<circle cx="464.8" cy="204.7" r="2.32"/>
<circle cx="468.6" cy="212.3" r="2.32"/>
<circle cx="461.4" cy="217.2" r="2.32"/>
<circle cx="474.3" cy="223.6" r="2.32"/>
<circle cx="466.8" cy="236.4" r="2.32"/>
<circle cx="472.5" cy="240.3" r="2.32"/>
<circle cx="459.9" cy="245.5" r="2.32"/>
<circle cx="456.5" cy="250.0" r="2.32"/>
<circle cx="463.1" cy="249.1" r="2.32"/>
<circle cx="469.7" cy="249.1" r="2.32"/>
<circle cx="476.5" cy="248.6" r="2.32"/>
<circle cx="475.8" cy="258.3" r="2.32"/>
<circle cx="466.5" cy="267.4" r="2.32"/>
<circle cx="469.9" cy="286" r="2.32"/>
<circle cx="462.2" cy="288.7" r="2.32"/>
<circle cx="471.9" cy="290.3" r="2.32"/>
<circle cx="464.5" cy="293.4" r="2.32"/>
<circle cx="468.1" cy="327" r="2.32"/>
</g>
<g fill="#4CAF50" fill-opacity="0.6">
<circle cx="602.2" cy="123.3" r="2.32"/>
<circle cx="605.9" cy="133.2" r="2.32"/>
<circle cx="601.6" cy="138.4" r="2.32"/>
<circle cx="604.2" cy="141" r="2.32"/>
<circle cx="600.1" cy="148.1" r="2.32"/>
<circle cx="607.3" cy="155.4" r="2.32"/>
<circle cx="601.4" cy="163.5" r="2.32"/>
<circle cx="605.8" cy="164.1" r="2.32"/>
<circle cx="596.7" cy="166.1" r="2.32"/>
<circle cx="598.6" cy="169.7" r="2.32"/>
<circle cx="603.7" cy="170.9" r="2.32"/>
<circle cx="609" cy="169.5" r="2.32"/>
<circle cx="592.9" cy="175.8" r="2.32"/>
<circle cx="602.6" cy="180.2" r="2.32"/>
<circle cx="613.7" cy="178.9" r="2.32"/>
<circle cx="608.6" cy="182.8" r="2.32"/>
<circle cx="596.3" cy="184.6" r="2.32"/>
<circle cx="611.6" cy="185.3" r="2.32"/>
<circle cx="599.2" cy="189.1" r="2.32"/>
<circle cx="592" cy="191.7" r="2.32"/>
<circle cx="606" cy="191.3" r="2.32"/>
<circle cx="614.5" cy="193.6" r="2.32"/>
<circle cx="595" cy="197.8" r="2.32"/>
<circle cx="598" cy="200.9" r="2.32"/>
<circle cx="609.9" cy="200.3" r="2.32"/>
<circle cx="604.2" cy="206.3" r="2.32"/>
<circle cx="593.1" cy="208.2" r="2.32"/>
<circle cx="612.8" cy="210.7" r="2.32"/>
<circle cx="602" cy="212.9" r="2.32"/>
<circle cx="607.3" cy="212.9" r="2.32"/>
<circle cx="596.9" cy="214.7" r="2.32"/>
<circle cx="609.4" cy="217.5" r="2.32"/>
<circle cx="600.3" cy="223.5" r="2.32"/>
<circle cx="604.5" cy="223.7" r="2.32"/>
<circle cx="597.4" cy="226.4" r="2.32"/>
<circle cx="607.3" cy="230" r="2.32"/>
<circle cx="602.3" cy="245.5" r="2.32"/>
<circle cx="604.8" cy="249.3" r="2.32"/>
<circle cx="599.2" cy="250.8" r="2.32"/>
<circle cx="605.8" cy="256.4" r="2.32"/>
<circle cx="601.0" cy="257.4" r="2.32"/>
<circle cx="603.4" cy="278" r="2.32"/>
</g>
<path d="M468.5 227.0 L472.9 231.4 L468.5 235.8 L464.1 231.4Z" fill="#e3191e" stroke="#000" stroke-width="1.1" stroke-linejoin="miter"/>
<path d="M603.7 191.2 L608.1 195.6 L603.7 200.0 L599.3 195.6Z" fill="#e3191e" stroke="#000" stroke-width="1.1" stroke-linejoin="miter"/>
<path d="M468.3 62.5 V60.4 H603.5 V62.5" fill="none" stroke="#2a2a2a" stroke-width="0.75"/>
<text x="535.90" y="56.90" font-size="9.2" text-anchor="middle" fill="#000">0.0025</text>
<path d="M387.1 37.45 H684.1 V352.3" fill="none" stroke="#000" stroke-width="0.9" stroke-linecap="square"/>
<path d="M387.1 37.45 V352.3 H684.1" fill="none" stroke="#000" stroke-width="1.35" stroke-linecap="square"/>
<line x1="384.2" x2="387.1" y1="338.40" y2="338.40" stroke="#111" stroke-width="0.9"/>
<text x="382.10" y="341.35" font-size="8.2" text-anchor="end" fill="#000">60%</text>
<line x1="384.2" x2="387.1" y1="274.60" y2="274.60" stroke="#111" stroke-width="0.9"/>
<text x="382.10" y="277.55" font-size="8.2" text-anchor="end" fill="#000">70%</text>
<line x1="384.2" x2="387.1" y1="210.80" y2="210.80" stroke="#111" stroke-width="0.9"/>
<text x="382.10" y="213.75" font-size="8.2" text-anchor="end" fill="#000">80%</text>
<line x1="384.2" x2="387.1" y1="147.00" y2="147.00" stroke="#111" stroke-width="0.9"/>
<text x="382.10" y="149.95" font-size="8.2" text-anchor="end" fill="#000">90%</text>
<line x1="384.2" x2="387.1" y1="83.20" y2="83.20" stroke="#111" stroke-width="0.9"/>
<text x="382.10" y="86.15" font-size="8.2" text-anchor="end" fill="#000">100%</text>
<line x1="468.3" x2="468.3" y1="352.3" y2="355.2" stroke="#111" stroke-width="0.9"/>
<text x="468.3" y="363.1" font-size="8.2" text-anchor="middle" fill="#000">EEG</text>
<line x1="603.5" x2="603.5" y1="352.3" y2="355.2" stroke="#111" stroke-width="0.9"/>
<text x="603.5" y="363.1" font-size="8.2" text-anchor="middle" fill="#000">EEG + Other Features</text>
<text x="535.60" y="373.5" font-size="9" font-weight="bold" text-anchor="middle" fill="#000">Feature Type</text>
<text transform="translate(357.3 194.88) rotate(-90)" font-size="9" font-weight="bold" text-anchor="middle" fill="#000">Classification Accuracy</text>
<text x="381.7" y="9.1" font-size="11.2" font-weight="bold" fill="#000">B</text>
<text x="430.4" y="18.6" font-size="9.75" font-weight="bold" fill="#000">Feature Type:</text>
<rect x="499.6" y="8.8" width="13" height="13" fill="#F44336" fill-opacity="0.5"/>
<circle cx="506.1" cy="15.3" r="2.35" fill="#F44336" fill-opacity="0.68"/>
<text x="518.4" y="18.2" font-size="8.2" fill="#000">EEG</text>
<rect x="541.1" y="8.8" width="13" height="13" fill="#4CAF50" fill-opacity="0.5"/>
<circle cx="547.6" cy="15.3" r="2.35" fill="#4CAF50" fill-opacity="0.68"/>
<text x="559.4" y="18.2" font-size="8.2" fill="#000">EEG + Other Features</text>
</svg>
</body></html>
